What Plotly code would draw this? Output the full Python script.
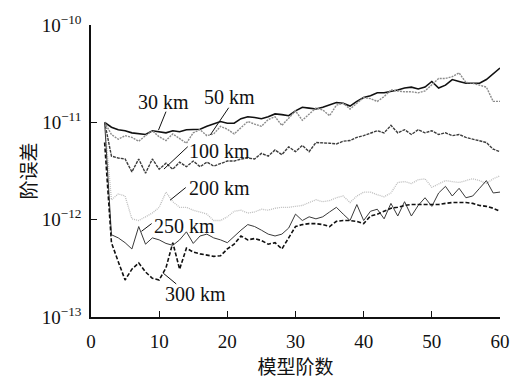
import plotly.graph_objects as go

# Model degree 2..60
degrees = list(range(2, 61))

err_30km = [1.00e-11, 8.9e-12, 8.4e-12, 8.2e-12, 7.8e-12, 7.6e-12, 7.5e-12, 8.2e-12, 8.0e-12, 7.8e-12,
            8.2e-12, 8.0e-12, 8.4e-12, 8.4e-12, 8.5e-12, 9.1e-12, 9.6e-12, 1.02e-11, 9.8e-12, 9.8e-12,
            1.09e-11, 1.14e-11, 1.12e-11, 1.09e-11, 1.14e-11, 1.22e-11, 1.20e-11, 1.17e-11, 1.31e-11, 1.43e-11,
            1.40e-11, 1.37e-11, 1.43e-11, 1.50e-11, 1.60e-11, 1.57e-11, 1.47e-11, 1.64e-11, 1.80e-11, 1.88e-11,
            2.01e-11, 2.01e-11, 2.06e-11, 2.15e-11, 2.25e-11, 2.30e-11, 2.20e-11, 2.30e-11, 2.63e-11, 2.25e-11,
            2.41e-11, 2.75e-11, 2.63e-11, 2.52e-11, 2.52e-11, 2.52e-11, 2.75e-11, 3.15e-11, 3.61e-11]

err_50km = [1.00e-11, 7.5e-12, 6.7e-12, 7.3e-12, 7.0e-12, 6.4e-12, 7.3e-12, 8.2e-12, 7.1e-12, 6.5e-12,
            7.6e-12, 6.8e-12, 6.1e-12, 7.8e-12, 8.4e-12, 7.3e-12, 7.6e-12, 9.1e-12, 8.5e-12, 7.6e-12,
            8.9e-12, 1.02e-11, 9.6e-12, 9.1e-12, 1.07e-11, 1.14e-11, 9.3e-12, 1.09e-11, 1.31e-11, 1.05e-11,
            1.22e-11, 1.40e-11, 1.34e-11, 1.17e-11, 1.50e-11, 1.57e-11, 1.37e-11, 1.57e-11, 1.80e-11, 1.75e-11,
            1.64e-11, 1.84e-11, 2.15e-11, 2.10e-11, 2.06e-11, 2.06e-11, 2.01e-11, 2.10e-11, 2.41e-11, 2.82e-11,
            2.82e-11, 2.95e-11, 3.22e-11, 2.57e-11, 2.52e-11, 2.41e-11, 2.30e-11, 1.64e-11, 1.64e-11]

err_100km = [1.00e-11, 4.5e-12, 4.3e-12, 4.2e-12, 3.1e-12, 4.2e-12, 3.0e-12, 4.2e-12, 3.3e-12, 3.8e-12,
             3.3e-12, 3.9e-12, 3.5e-12, 4.0e-12, 3.5e-12, 3.9e-12, 3.55e-12, 3.8e-12, 4.0e-12, 4.0e-12,
             4.2e-12, 4.3e-12, 4.2e-12, 4.8e-12, 4.5e-12, 5.2e-12, 4.65e-12, 5.6e-12, 5.0e-12, 5.8e-12,
             5.0e-12, 6.2e-12, 6.2e-12, 6.1e-12, 6.0e-12, 6.4e-12, 6.5e-12, 7.0e-12, 7.3e-12, 7.8e-12,
             8.2e-12, 7.8e-12, 9.3e-12, 7.8e-12, 8.4e-12, 7.5e-12, 8.4e-12, 7.8e-12, 8.2e-12, 7.5e-12,
             7.8e-12, 7.3e-12, 7.5e-12, 7.0e-12, 6.7e-12, 6.5e-12, 6.2e-12, 5.3e-12, 5.0e-12]

err_200km = [1.00e-11, 1.60e-12, 1.84e-12, 1.75e-12, 1.02e-12, 0.98e-12, 1.07e-12, 1.17e-12, 1.34e-12, 1.92e-12,
             1.53e-12, 1.34e-12, 1.34e-12, 1.25e-12, 1.20e-12, 1.14e-12, 0.98e-12, 0.98e-12, 1.07e-12, 1.22e-12,
             1.25e-12, 1.17e-12, 1.20e-12, 1.28e-12, 1.25e-12, 1.31e-12, 1.34e-12, 1.34e-12, 1.37e-12, 1.40e-12,
             1.50e-12, 1.60e-12, 1.53e-12, 1.57e-12, 1.68e-12, 1.75e-12, 1.50e-12, 1.75e-12, 1.92e-12, 1.92e-12,
             1.80e-12, 1.72e-12, 1.88e-12, 2.41e-12, 2.46e-12, 2.35e-12, 2.57e-12, 2.63e-12, 2.15e-12, 2.35e-12,
             2.52e-12, 2.46e-12, 2.41e-12, 2.52e-12, 2.63e-12, 2.52e-12, 2.35e-12, 2.63e-12, 2.82e-12]

err_250km = [1.00e-11, 7.0e-13, 6.5e-13, 5.8e-13, 5.0e-13, 8.5e-13, 5.6e-13, 6.5e-13, 6.2e-13, 5.7e-13,
             5.45e-13, 6.2e-13, 7.5e-13, 5.7e-13, 6.8e-13, 7.1e-13, 6.5e-13, 6.2e-13, 5.8e-13, 6.8e-13,
             7.8e-13, 8.9e-13, 8.5e-13, 7.8e-13, 7.1e-13, 6.8e-13, 7.1e-13, 8.2e-13, 1.14e-12, 0.98e-12,
             1.07e-12, 1.02e-12, 1.07e-12, 1.20e-12, 1.34e-12, 1.14e-12, 0.98e-12, 1.43e-12, 0.98e-12, 1.22e-12,
             1.28e-12, 1.02e-12, 1.47e-12, 1.09e-12, 1.53e-12, 1.09e-12, 1.40e-12, 1.68e-12, 1.37e-12, 1.88e-12,
             2.20e-12, 1.75e-12, 2.10e-12, 1.68e-12, 1.75e-12, 2.10e-12, 2.52e-12, 1.88e-12, 1.92e-12]

err_300km = [6.2e-12, 5.8e-13, 3.7e-13, 2.4e-13, 3.1e-13, 3.6e-13, 2.9e-13, 2.5e-13, 2.4e-13, 3.2e-13,
             5.8e-13, 3.1e-13, 5.1e-13, 4.65e-13, 4.45e-13, 4.35e-13, 4.2e-13, 4.25e-13, 5.0e-13, 5.6e-13,
             6.8e-13, 6.2e-13, 6.4e-13, 6.1e-13, 5.6e-13, 5.8e-13, 5.0e-13, 6.5e-13, 8.5e-13, 8.9e-13,
             9.1e-13, 9.1e-13, 8.9e-13, 8.5e-13, 9.6e-13, 9.8e-13, 9.8e-13, 9.6e-13, 9.1e-13, 1.09e-12,
             1.14e-12, 1.22e-12, 1.31e-12, 1.34e-12, 1.40e-12, 1.43e-12, 1.43e-12, 1.43e-12, 1.43e-12, 1.43e-12,
             1.47e-12, 1.50e-12, 1.50e-12, 1.50e-12, 1.47e-12, 1.40e-12, 1.37e-12, 1.31e-12, 1.22e-12]

y_tickvals = [1e-13, 1e-12, 1e-11, 1e-10]
y_ticktext = ["10<sup>−13</sup>", "10<sup>−12</sup>", "10<sup>−11</sup>", "10<sup>−10</sup>"]
x_tickvals = [0, 10, 20, 30, 40, 50, 60]
x_range = [0, 60]
y_log_range = [-13, -10]

series = [
    ("30 km", err_30km, dict(color="#111111", width=1.6, dash="solid")),
    ("50 km", err_50km, dict(color="#8c8c8c", width=1.4, dash="2px,1px")),
    ("100 km", err_100km, dict(color="#3c3c3c", width=1.4, dash="3px,1px")),
    ("200 km", err_200km, dict(color="#bdbdbd", width=1.3, dash="1px,1px")),
    ("250 km", err_250km, dict(color="#3a3a3a", width=1.0, dash="solid")),
    ("300 km", err_300km, dict(color="#111111", width=1.6, dash="4px,2px")),
]

# label text position (degree, log10 err) and leader line (from -> to)
labels = [
    ("30 km", (10.7, -10.79), ((11.0, -10.89), (9.9, -11.08))),
    ("50 km", (20.3, -10.74), ((20.2, -10.85), (17.5, -11.13))),
    ("100 km", (18.9, -11.29), ((14.2, -11.25), (10.7, -11.48))),
    ("200 km", (18.9, -11.67), ((13.9, -11.67), (11.6, -11.80))),
    ("250 km", (13.7, -12.07), ((8.9, -12.04), (7.4, -12.12))),
    ("300 km", (15.4, -12.76), ((12.5, -12.66), (10.6, -12.55))),
]

serif = "Liberation Serif"
cjk = "Noto Sans CJK SC"


def to_paper(x, ylog):
    """Degree / log10(err) -> paper fraction of the plot area."""
    px = (x - x_range[0]) / (x_range[1] - x_range[0])
    py = (ylog - y_log_range[0]) / (y_log_range[1] - y_log_range[0])
    return px, py


fig = go.Figure()
for name, vals, style in series:
    fig.add_trace(go.Scatter(x=degrees, y=vals, mode="lines", name=name, line=style, showlegend=False))

for text, (tx, ty), (p0, p1) in labels:
    fig.add_annotation(x=tx, y=ty, xref="x", yref="y", text=text, showarrow=False,
                       font=dict(family=serif, size=20, color="#111111"))
    x0, y0 = to_paper(*p0)
    x1, y1 = to_paper(*p1)
    fig.add_shape(type="line", xref="paper", yref="paper", x0=x0, y0=y0, x1=x1, y1=y1,
                  line=dict(color="#111111", width=1))

fig.update_xaxes(range=x_range, tickvals=x_tickvals, ticks="inside", ticklen=6, tickwidth=1,
                 tickcolor="#111111", showline=True, linecolor="#111111", linewidth=1.5,
                 showgrid=False, zeroline=False, ticklabelstandoff=6,
                 tickfont=dict(family=serif, size=19, color="#111111"),
                 title=dict(text="模型阶数", font=dict(family=cjk, size=19, color="#111111"), standoff=4))
fig.update_yaxes(type="log", range=y_log_range, tickvals=y_tickvals, ticktext=y_ticktext,
                 ticks="inside", ticklen=6, tickwidth=1, tickcolor="#111111",
                 showline=True, linecolor="#111111", linewidth=1.5, showgrid=False, zeroline=False,
                 ticklabelstandoff=4,
                 tickfont=dict(family=serif, size=19, color="#111111"),
                 title=dict(text="阶误差", font=dict(family=cjk, size=19, color="#111111"), standoff=0))

fig.update_layout(width=522, height=381, margin=dict(l=91, r=12, t=16, b=58),
                  plot_bgcolor="white", paper_bgcolor="white",
                  font=dict(family=serif))

fig.write_html("out.html")
